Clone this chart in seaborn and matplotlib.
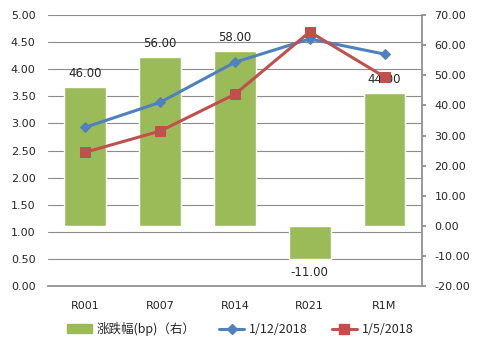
import matplotlib
matplotlib.use("Agg")
import matplotlib.pyplot as plt
import seaborn as sns
import pandas as pd
from matplotlib.patches import Patch
from matplotlib.lines import Line2D

categories = ["R001", "R007", "R014", "R021", "R1M"]
change_bp = [46.0, 56.0, 58.0, -11.0, 44.0]
rate_0112 = [2.93, 3.39, 4.13, 4.56, 4.28]
rate_0105 = [2.47, 2.86, 3.54, 4.69, 3.86]
bar_label = "涨跌幅(bp)（右）"
line1_label = "1/12/2018"
line2_label = "1/5/2018"

sns.set_theme(style="white")
plt.rcParams['font.family'] = ['Noto Sans CJK SC', 'DejaVu Sans']

GREEN = "#9BBB59"
BLUE = "#4F81BD"
RED = "#C0504D"
GRID = "#8C8C8C"
FS = 8.5

fig = plt.figure(figsize=(4.8, 3.51), dpi=100)
ax = fig.add_axes([0.10, 0.185, 0.779, 0.772])

df_bar = pd.DataFrame({"cat": categories, "val": change_bp})
sns.barplot(data=df_bar, x="cat", y="val", color=GREEN, width=0.56, ax=ax,
            saturation=1, zorder=2)
ax.set_xlabel("")
ax.set_ylabel("")

ax2 = ax.twinx()
x = list(range(len(categories)))
sns.lineplot(x=x, y=rate_0112, ax=ax2, color=BLUE, marker="D", markersize=5,
             linewidth=2.2, markeredgecolor=BLUE)
sns.lineplot(x=x, y=rate_0105, ax=ax2, color=RED, marker="s", markersize=7,
             linewidth=2.2, markeredgecolor=RED)

# right axis (bars)
ax.set_ylim(-20, 70)
ax.set_yticks(range(-20, 71, 10))
ax.set_yticklabels([f"{v:.2f}" for v in range(-20, 71, 10)], fontsize=8,
                   family=['DejaVu Sans'])
ax.yaxis.tick_right()
ax.tick_params(axis="y", which="both", left=False, right=True, labelleft=False,
               labelright=True, length=3, color=GRID, pad=6)

# left axis (lines)
ax2.set_ylim(0, 5)
ax2.set_yticks([i * 0.5 for i in range(11)])
ax2.set_yticklabels([f"{i*0.5:.2f}" for i in range(11)], fontsize=8,
                    family=['DejaVu Sans'])
ax2.yaxis.tick_left()
ax2.tick_params(axis="y", left=False, right=False, labelleft=True,
                labelright=False, length=0, pad=9)
ax2.set_xlim(-0.5, 4.5)
ax.set_xlim(-0.5, 4.5)

for i, v in enumerate(change_bp):
    if v >= 0:
        ax.text(i, v + 2.5, f"{v:.2f}", ha="center", va="bottom", fontsize=FS,
                family=['DejaVu Sans'])
    else:
        ax.text(i, v - 2.5, f"{v:.2f}", ha="center", va="top", fontsize=FS,
                family=['DejaVu Sans'])

# gridlines along left axis ticks
for i in range(11):
    ax.axhline(-20 + i * 9, color=GRID, linewidth=0.8, zorder=0)

for a in (ax, ax2):
    for s in ["top", "left"]:
        a.spines[s].set_visible(False)
    a.spines["right"].set_color(GRID)
    a.spines["bottom"].set_color(GRID)
    a.grid(False)
ax2.spines["right"].set_visible(False)
ax2.spines["bottom"].set_visible(False)

ax.set_xticks(x)
ax.set_xticklabels(categories, fontsize=8, family=['DejaVu Sans'])
ax.tick_params(axis="x", bottom=False, pad=5)

handles = [Patch(color=GREEN, label=bar_label),
           Line2D([0], [0], color=BLUE, marker="D", markersize=5, linewidth=2.2, label=line1_label),
           Line2D([0], [0], color=RED, marker="s", markersize=7, linewidth=2.2, label=line2_label)]
fig.legend(handles=handles, loc="center", bbox_to_anchor=(0.5, 0.062), ncol=3,
           frameon=False, fontsize=9, handlelength=2.0, columnspacing=1.9,
           handletextpad=0.4)

fig.savefig("out.png", dpi=100)
